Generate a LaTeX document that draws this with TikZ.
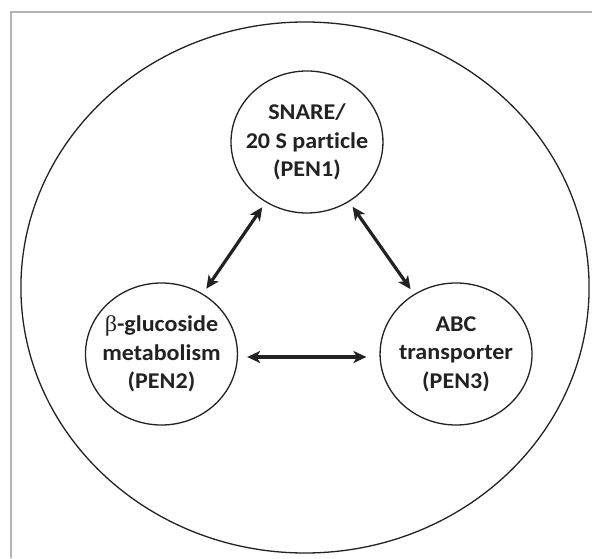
\documentclass[tikz,border=0pt]{standalone}
\usepackage{fontspec}
\setmainfont{Carlito}[Ligatures={NoCommon,NoDiscretionary,NoContextual}]
\newfontfamily\betafont{Liberation Serif}
\usetikzlibrary{arrows.meta}
\definecolor{ink}{HTML}{222222}
\definecolor{framegray}{HTML}{B4B4B4}
\tikzset{
  topic/.style={circle, draw=ink, line width=1.3pt, minimum size=142pt, inner sep=0pt,
    align=center, text=ink, font=\fontsize{22.5}{28.5}\selectfont\bfseries},
  link/.style={draw=ink, line width=3.2pt, {Stealth[length=13pt,width=12pt,inset=3.5pt]}-{Stealth[length=13pt,width=12pt,inset=3.5pt]}},
  outer/.style={draw=ink, line width=1.3pt},
  frameline/.style={draw=framegray, line width=1.3pt}
}
\begin{document}
\begin{tikzpicture}[x=1pt, y=1pt, xscale=1.07, transform shape]
\useasboundingbox (0,0) rectangle (553.27,558);
\fill[white] (0,0) rectangle (553.27,558);
\coordinate (fbl) at (10.3,0);
\coordinate (ftl) at (10.3,546);
\coordinate (ftr) at (553.27,546);
\draw[frameline] (fbl) -- (ftl) -- (ftr);
\coordinate (cellc) at (285,270.5);
\draw[outer] (cellc) circle[radius=265.5];
\node[topic] (pen1) at (286.9,416) {SNARE/\\20 S particle\\(PEN1)};
\node[topic] (pen2) at (150.9,204) {{\betafont\mdseries β}-glucoside\\metabolism\\(PEN2)};
\node[topic] (pen3) at (426.2,204) {ABC\\transporter\\(PEN3)};
\draw[link, shorten <=6pt, shorten >=6pt] (pen1) -- (pen2);
\draw[link, shorten <=6pt, shorten >=6pt] (pen1) -- (pen3);
\draw[link, shorten <=9pt, shorten >=13pt] ([yshift=-3pt]pen2.east) -- ([yshift=-3pt]pen3.west);
\end{tikzpicture}
\end{document}
